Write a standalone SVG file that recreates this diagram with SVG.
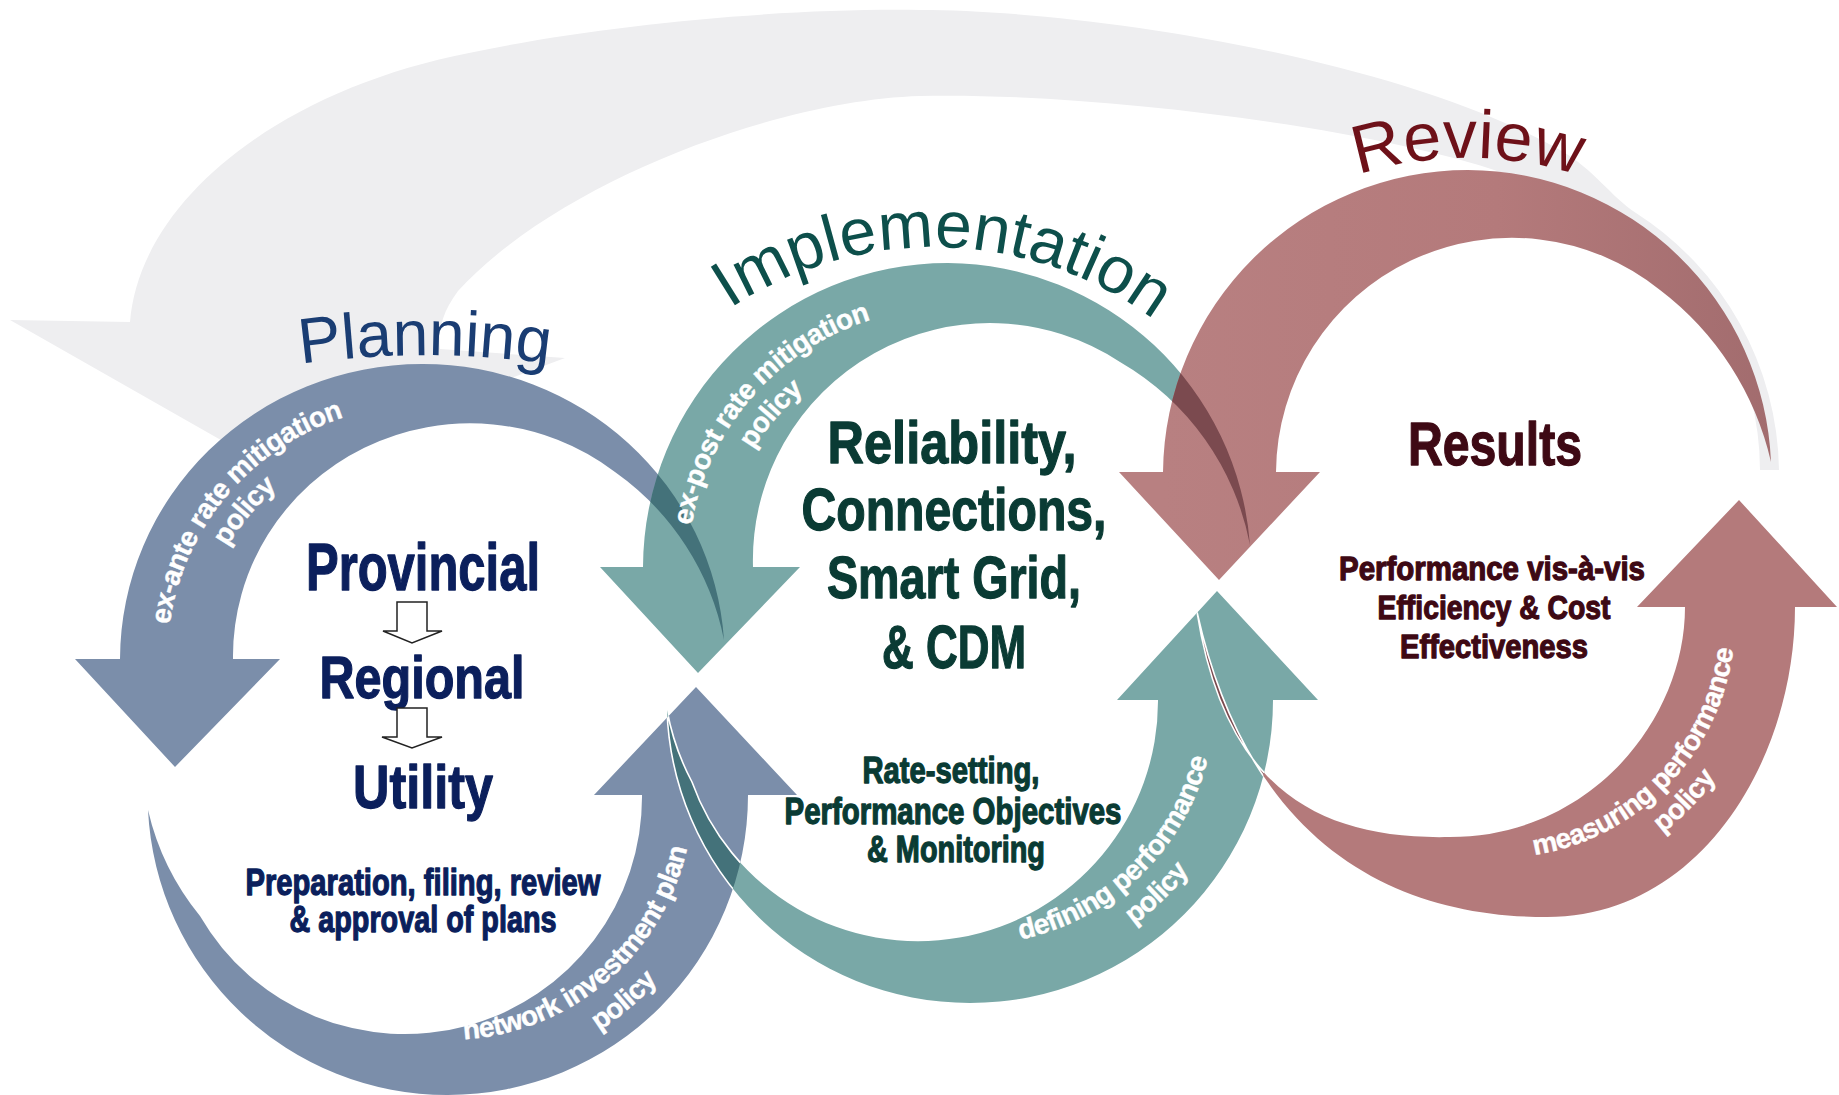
<svg xmlns="http://www.w3.org/2000/svg" xmlns:xlink="http://www.w3.org/1999/xlink" width="1839" height="1095" viewBox="0 0 1839 1095">
<style>
  .slate{fill:#7b8eaa}
  .teal{fill:#79a8a7}
  .red{fill:url(#gr-red)}
  .red2{fill:#b47a7b}
  .ovA{fill:#44727a}
  .ovB{fill:#7b4a4f}
  .edge{fill:none;stroke:#ffffff;stroke-width:1.6}
  .ttl{font-family:"Liberation Sans",Arial,sans-serif;font-weight:normal}
  .lbl{font-family:"Liberation Sans",Arial,sans-serif;font-weight:bold;font-size:28px;letter-spacing:-0.6px;fill:#ffffff;stroke:#ffffff;stroke-width:0.4px}
  .big{font-family:"Liberation Sans Narrow","Liberation Sans",Arial,sans-serif;font-weight:bold;text-anchor:middle;stroke-width:1.3px;stroke-linejoin:round}
  .navy{fill:#0b1f5c;stroke:#0b1f5c}
  .green{fill:#0a3b34;stroke:#0a3b34}
  .maroon{fill:#3e0914;stroke:#3e0914}
  .hollow{fill:#ffffff;stroke:#222222;stroke-width:1.5}
</style>
<defs>
  <linearGradient id="gr-red" gradientUnits="userSpaceOnUse" x1="1163" y1="0" x2="1771" y2="0">
    <stop offset="0" stop-color="#b88081"/>
    <stop offset="0.55" stop-color="#b47a7b"/>
    <stop offset="1" stop-color="#a26c6e"/>
  </linearGradient>
  <path id="pt" d="M 120 659 A 302 296 0 0 1 422 364 A 302 296 0 0 1 724 640 A 270 270 0 0 0 615 472 A 237 233 0 0 0 233 659 L 280 659 L 175 767 L 75 659 Z"/>
  <path id="pb" d="M 748 795 A 300 300 0 0 1 448 1095 A 300 300 0 0 1 148 810 A 260 260 0 0 0 200 916 A 237 237 0 0 0 642 795 L 594 795 L 696 687 L 797 795 Z"/>
  <path id="tt" d="M 643 567 A 305 305 0 0 1 948 263 A 305 305 0 0 1 1250 545 A 270 270 0 0 0 1120 362 A 237 237 0 0 0 753 567 L 800 567 L 698 673 L 600 567 Z"/>
  <path id="tb" d="M 1273 700 A 303 303 0 0 1 970 1003 A 303 303 0 0 1 667 710 A 250 250 0 0 0 692 782 A 240 240 0 0 0 1158 700 L 1117 700 L 1217 591 L 1318 700 Z"/>
  <path id="rt" d="M 1163 472 A 305 305 0 0 1 1468 170 A 305 305 0 0 1 1771 462 A 300 300 0 0 0 1660 290 A 236 236 0 0 0 1276 472 L 1320 472 L 1219 580 L 1119 472 Z"/>
  <path id="rb" d="M 1795 607 C 1795 760, 1700 917, 1547 917 C 1400 917, 1250 850, 1197 612 C 1225 790, 1320 840, 1450 837 C 1590 837, 1685 720, 1685 607 L 1637 607 L 1739 500 L 1837 607 Z"/>
  <clipPath id="c-tt"><use href="#tt"/></clipPath>
  <clipPath id="c-pb"><use href="#pb"/></clipPath>
  <clipPath id="c-rt"><use href="#rt"/></clipPath>
  <clipPath id="c-tb"><use href="#tb"/></clipPath>
  <path id="tp-plan" d="M 280 367 A 900 900 0 0 1 570 367"/>
  <path id="tp-impl" d="M 711 322 A 370 370 0 0 1 1172 334"/>
  <path id="tp-rev" d="M 1328 186 A 362 362 0 0 1 1608 186"/>
  <path id="lp1" d="M 201.2 787.5 A 255 255 0 0 1 509.2 420.4"/>
  <path id="lp2" d="M 227.1 772.5 A 225 225 0 0 1 499 448.6"/>
  <path id="ltp1" d="M 720.6 694 A 260 260 0 0 1 1041.2 325.3"/>
  <path id="ltp2" d="M 748.6 678.5 A 228 228 0 0 1 1029.7 355.1"/>
  <path id="lpb1" d="M 327.4 1008.2 A 245 245 0 0 0 677.5 709.2"/>
  <path id="lpb2" d="M 310.1 1038.7 A 280 280 0 0 0 710.3 696.9"/>
  <path id="ltb1" d="M 862.6 920.2 A 245 245 0 0 0 1193.8 600.4"/>
  <path id="ltb2" d="M 848.1 949.9 A 278 278 0 0 0 1224 586.9"/>
  <path id="lrb1" d="M 1400.2 837.4 A 238 238 0 0 0 1710.9 515.7"/>
  <path id="lrb2" d="M 1387.2 866.6 A 270 270 0 0 0 1739.7 501.6"/>
</defs>

<g id="feedback-arrow">
  <path fill="#eeeef0" d="M 10 320 L 130 322 C 140 200, 280 90, 469 53 C 600 25, 780 8, 920 10 C 1080 10, 1390 55, 1560 150 C 1595 170, 1610 196, 1636 213 A 311 311 0 0 1 1779 470 L 1760 470 A 295 295 0 0 0 1620 220 C 1580 190, 1540 178, 1500 172 C 1380 130, 1100 92, 920 96 C 780 100, 560 180, 458 291 C 440 315, 438 335, 440 349 L 565 358 L 270 468 Z"/>
</g>

<g id="connectors">
  <use href="#pt" class="slate"/>
  <use href="#pb" class="slate"/>
  <use href="#tt" class="teal"/>
  <use href="#tb" class="teal"/>
  <use href="#rt" class="red"/>
  <use href="#rb" class="red2"/>
  <use href="#pt" class="ovA" clip-path="url(#c-tt)"/>
  <use href="#tb" class="ovA" clip-path="url(#c-pb)"/>
  <use href="#tt" class="ovB" clip-path="url(#c-rt)"/>
  <use href="#rb" class="ovB" clip-path="url(#c-tb)"/>
  <use href="#tb" class="edge" clip-path="url(#c-pb)"/>
  <use href="#rb" class="edge" clip-path="url(#c-tb)"/>
</g>

<g id="policy-labels">
  <text class="lbl" text-anchor="middle"><textPath href="#lp1" startOffset="50%">ex-ante rate mitigation</textPath></text>
  <text class="lbl" text-anchor="middle"><textPath href="#lp2" startOffset="50%">policy</textPath></text>
  <text class="lbl" text-anchor="middle"><textPath href="#ltp1" startOffset="50%">ex-post rate mitigation</textPath></text>
  <text class="lbl" text-anchor="middle"><textPath href="#ltp2" startOffset="50%">policy</textPath></text>
  <text class="lbl" text-anchor="middle"><textPath href="#lpb1" startOffset="50%">network investment plan</textPath></text>
  <text class="lbl" text-anchor="middle"><textPath href="#lpb2" startOffset="50%">policy</textPath></text>
  <text class="lbl" text-anchor="middle"><textPath href="#ltb1" startOffset="50%">defining performance</textPath></text>
  <text class="lbl" text-anchor="middle"><textPath href="#ltb2" startOffset="50%">policy</textPath></text>
  <text class="lbl" text-anchor="middle"><textPath href="#lrb1" startOffset="50%">measuring performance</textPath></text>
  <text class="lbl" text-anchor="middle"><textPath href="#lrb2" startOffset="50%">policy</textPath></text>
</g>

<g id="node-planning">
  <text class="ttl" font-size="64" fill="#1a3d73" text-anchor="middle"><textPath href="#tp-plan" startOffset="50%">Planning</textPath></text>
  <text class="big navy" x="423" y="590" font-size="66" textLength="234" lengthAdjust="spacingAndGlyphs">Provincial</text>
  <polygon class="hollow" points="397,602 427,602 427,631 442,631 412,643 383,631 397,631"/>
  <text class="big navy" x="422" y="698" font-size="60" textLength="205" lengthAdjust="spacingAndGlyphs">Regional</text>
  <polygon class="hollow" points="397,708 427,708 427,737 442,737 412,748 382,737 397,737"/>
  <text class="big navy" x="423" y="808" font-size="62" textLength="140" lengthAdjust="spacingAndGlyphs">Utility</text>
  <text class="big navy" x="423" y="895" font-size="37" textLength="355" lengthAdjust="spacingAndGlyphs">Preparation, filing, review</text>
  <text class="big navy" x="423" y="932" font-size="37" textLength="267" lengthAdjust="spacingAndGlyphs">&amp; approval of plans</text>
</g>

<g id="node-implementation">
  <text class="ttl" font-size="66" fill="#0d4f4b" text-anchor="middle"><textPath href="#tp-impl" startOffset="50%">Implementation</textPath></text>
  <text class="big green" x="952" y="463" font-size="60" textLength="249" lengthAdjust="spacingAndGlyphs">Reliability,</text>
  <text class="big green" x="954" y="530" font-size="60" textLength="305" lengthAdjust="spacingAndGlyphs">Connections,</text>
  <text class="big green" x="954" y="598" font-size="60" textLength="254" lengthAdjust="spacingAndGlyphs">Smart Grid,</text>
  <text class="big green" x="954" y="668" font-size="62" textLength="144" lengthAdjust="spacingAndGlyphs">&amp; CDM</text>
  <text class="big green" x="951" y="783" font-size="36" textLength="177" lengthAdjust="spacingAndGlyphs">Rate-setting,</text>
  <text class="big green" x="953" y="824" font-size="36" textLength="337" lengthAdjust="spacingAndGlyphs">Performance Objectives</text>
  <text class="big green" x="956" y="862" font-size="36" textLength="178" lengthAdjust="spacingAndGlyphs">&amp; Monitoring</text>
</g>

<g id="node-review">
  <text class="ttl" font-size="68" fill="#6e1119" text-anchor="middle"><textPath href="#tp-rev" startOffset="50%">Review</textPath></text>
  <text class="big maroon" x="1495" y="465" font-size="62" textLength="174" lengthAdjust="spacingAndGlyphs">Results</text>
  <text class="big maroon" x="1492" y="580" font-size="34" textLength="306" lengthAdjust="spacingAndGlyphs">Performance vis-à-vis</text>
  <text class="big maroon" x="1494" y="619" font-size="34" textLength="233" lengthAdjust="spacingAndGlyphs">Efficiency &amp; Cost</text>
  <text class="big maroon" x="1494" y="658" font-size="34" textLength="188" lengthAdjust="spacingAndGlyphs">Effectiveness</text>
</g>
</svg>
